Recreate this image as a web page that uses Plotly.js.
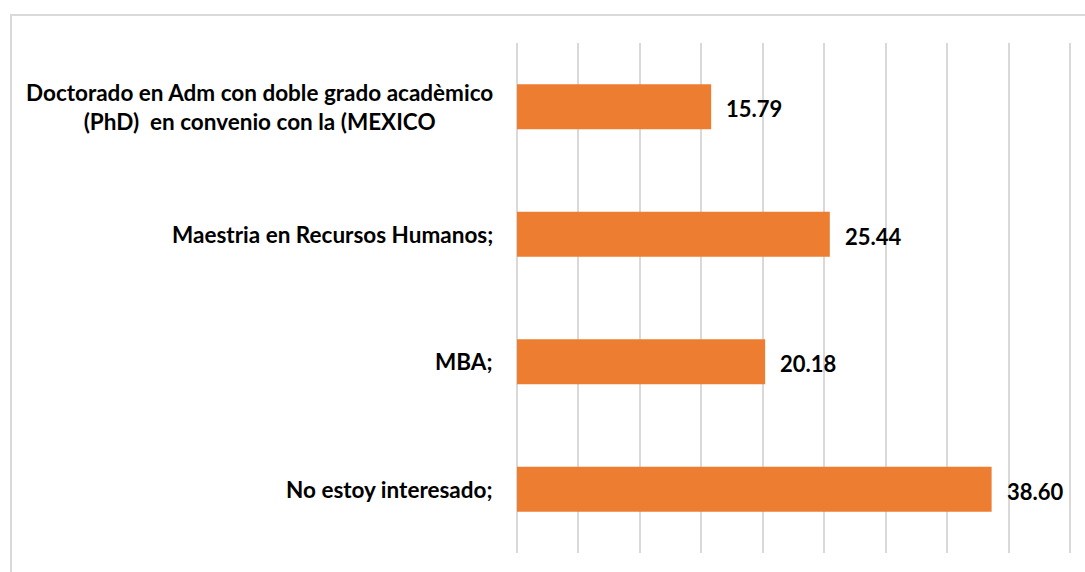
<!DOCTYPE html>
<html>
<head>
<meta charset="utf-8">
<script src="https://cdn.plot.ly/plotly-3.0.1.min.js"></script>
<style>
  html, body { margin: 0; padding: 0; background: #ffffff; }
  #wrap { position: relative; width: 1085px; height: 572px; overflow: hidden; }
  #frame { position: absolute; left: 10px; top: 14px; width: 1200px; height: 700px;
           border-top: 2px solid #d9d9d9; border-left: 2px solid #d9d9d9; box-sizing: border-box; pointer-events: none; }
  #chart { position: absolute; left: 0; top: 0; width: 1085px; height: 572px; }
</style>
</head>
<body>
<div id="wrap">
  <div id="chart"></div>
  <div id="frame"></div>
</div>
<script>
const categories = [
  "Doctorado en Adm con doble grado acadèmico<br>(PhD)  en convenio con la (MEXICO",
  "Maestria en Recursos Humanos;",
  "MBA;",
  "No estoy interesado;"
];
const values = [15.79, 25.44, 20.18, 38.60];
const valueLabels = ["15.79", "25.44", "20.18", "38.60"];

const FONT = "Lato, 'Open Sans', sans-serif";
const BAR_COLOR = "#ED7D31";

const trace = {
  type: "bar",
  orientation: "h",
  x: values,
  y: categories,
  marker: { color: BAR_COLOR, line: { width: 0 } },
  hoverinfo: "skip"
};

const annotations = [];
categories.forEach((c, i) => {
  annotations.push({
    x: 0, y: c, xref: "x", yref: "y",
    text: "<b>" + c + "</b>",
    showarrow: false, xanchor: "right", yanchor: "middle", align: "center",
    xshift: -22,
    font: { family: FONT, size: 22.5, color: "#000000" }
  });
  annotations.push({
    x: values[i], y: c, xref: "x", yref: "y",
    text: "<b>" + valueLabels[i] + "</b>",
    showarrow: false, xanchor: "left", yanchor: "middle",
    xshift: 13, yshift: -2,
    font: { family: FONT, size: 22, color: "#000000" }
  });
});

const layout = {
  width: 1085, height: 572,
  margin: { l: 517, r: 11, t: 43, b: 19, pad: 0 },
  paper_bgcolor: "#ffffff",
  plot_bgcolor: "#ffffff",
  showlegend: false,
  bargap: 0.647,
  xaxis: {
    range: [0, 45.3], dtick: 5, tick0: 0,
    showgrid: true, gridcolor: "#d9d9d9", gridwidth: 2,
    zeroline: true, zerolinecolor: "#d9d9d9", zerolinewidth: 2,
    showticklabels: false, ticks: "", showline: false, fixedrange: true
  },
  yaxis: {
    type: "category", autorange: "reversed",
    showticklabels: false, ticks: "", showgrid: false, zeroline: false, showline: false,
    fixedrange: true
  },
  annotations: annotations
};

Plotly.newPlot("chart", [trace], layout, { displayModeBar: false, staticPlot: true });
</script>
</body>
</html>
